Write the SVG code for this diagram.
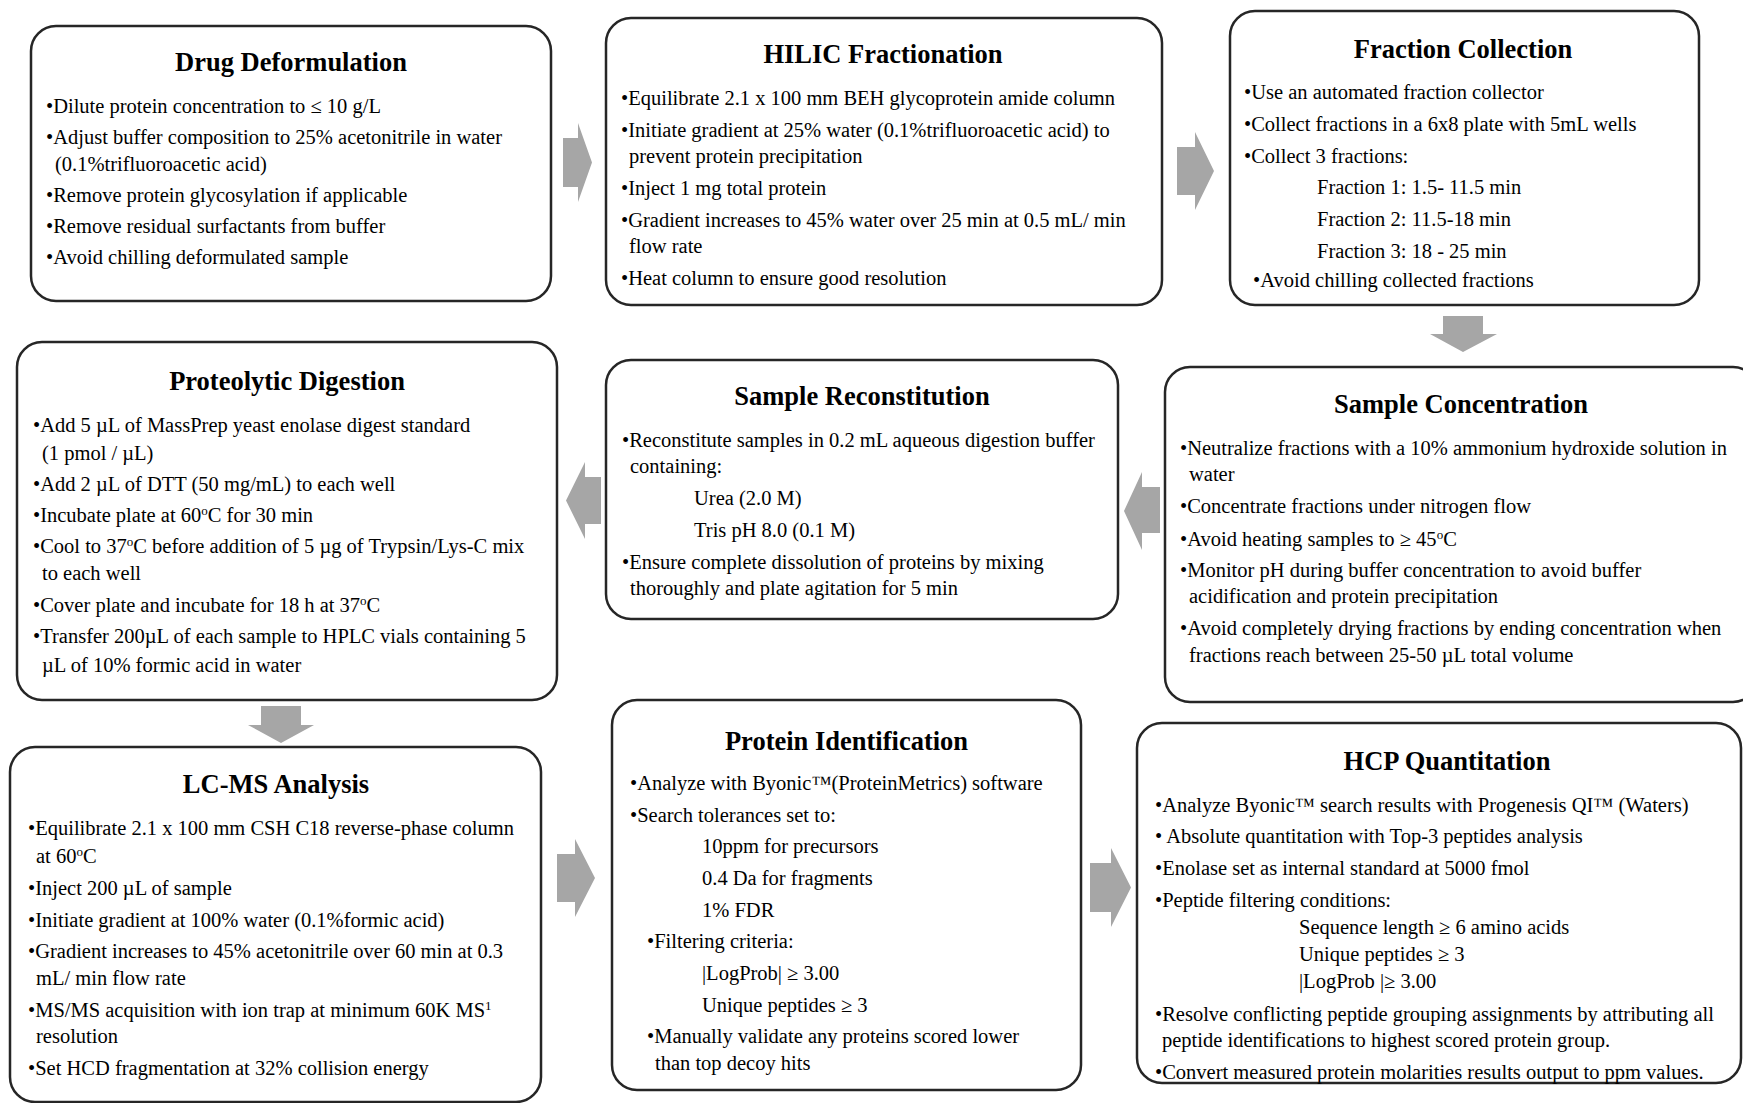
<svg xmlns="http://www.w3.org/2000/svg" width="1743" height="1103" viewBox="0 0 1743 1103">
  <style>
    .box { fill: #ffffff; stroke: #262626; stroke-width: 2.5; }
    .arrow { fill: #a6a6a6; stroke: none; }
    .h { font-family: "Liberation Serif", "Times New Roman", serif; font-weight: bold; font-size: 26.5px; fill: #000; text-anchor: middle; }
    .t { font-family: "Liberation Serif", "Times New Roman", serif; font-size: 20.5px; fill: #000; }
    .sup { font-size: 13px; }
  </style>
  <rect width="1743" height="1103" fill="#ffffff"/>

  <!-- flow arrows between steps -->
  <g id="connectors">
    <path class="arrow" d="M563,138 H578 V123 L592,162.5 L578,202 V187 H563 Z"/>
    <path class="arrow" d="M1177,147 H1195 V132 L1214,171 L1195,210 V195 H1177 Z"/>
    <path class="arrow" d="M1443,316 H1483 V334 H1497 L1463,352 L1430,334 H1443 Z"/>
    <path class="arrow" d="M1160,487 H1142 V472 L1124,511 L1142,550 V533 H1160 Z"/>
    <path class="arrow" d="M601,477 H585 V462 L566,500.5 L585,539 V524 H601 Z"/>
    <path class="arrow" d="M261,706 H301 V725 H314 L281,743 L248,725 H261 Z"/>
    <path class="arrow" d="M557,854 H575 V839 L595,878 L575,917 V902 H557 Z"/>
    <path class="arrow" d="M1090,863 H1111 V848 L1131,887.5 L1111,927 V912 H1090 Z"/>
  </g>

  <g id="drug-deformulation">
    <rect class="box" x="31" y="26" width="520" height="275" rx="25"/>
    <text class="h" x="291" y="71">Drug Deformulation</text>
    <text class="t" x="46" y="113">•Dilute protein concentration to ≤ 10 g/L</text>
    <text class="t" x="46" y="144">•Adjust buffer composition to 25% acetonitrile in water</text>
    <text class="t" x="55" y="170.5">(0.1%trifluoroacetic acid)</text>
    <text class="t" x="46" y="201.5">•Remove protein glycosylation if applicable</text>
    <text class="t" x="46" y="233">•Remove residual surfactants from buffer</text>
    <text class="t" x="46" y="264">•Avoid chilling deformulated sample</text>
  </g>

  <g id="hilic-fractionation">
    <rect class="box" x="606" y="18" width="556" height="287" rx="25"/>
    <text class="h" x="883" y="63">HILIC Fractionation</text>
    <text class="t" x="621" y="105">•Equilibrate 2.1 x 100 mm BEH glycoprotein amide column</text>
    <text class="t" x="621" y="136.5">•Initiate gradient at 25% water (0.1%trifluoroacetic acid) to</text>
    <text class="t" x="629" y="163">prevent protein precipitation</text>
    <text class="t" x="621" y="195">•Inject 1 mg total protein</text>
    <text class="t" x="621" y="226.5">•Gradient increases to 45% water over 25 min at 0.5 mL/ min</text>
    <text class="t" x="629" y="253">flow rate</text>
    <text class="t" x="621" y="285">•Heat column to ensure good resolution</text>
  </g>

  <g id="fraction-collection">
    <rect class="box" x="1230" y="11" width="469" height="294" rx="25"/>
    <text class="h" x="1463" y="58">Fraction Collection</text>
    <text class="t" x="1244" y="99">•Use an automated fraction collector</text>
    <text class="t" x="1244" y="131">•Collect fractions in a 6x8 plate with 5mL wells</text>
    <text class="t" x="1244" y="162.5">•Collect 3 fractions:</text>
    <text class="t" x="1317" y="194">Fraction 1: 1.5- 11.5 min</text>
    <text class="t" x="1317" y="226">Fraction 2: 11.5-18 min</text>
    <text class="t" x="1317" y="257.5">Fraction 3: 18 - 25 min</text>
    <text class="t" x="1253" y="287">•Avoid chilling collected fractions</text>
  </g>

  <g id="sample-concentration">
    <rect class="box" x="1165" y="367" width="593" height="335" rx="25"/>
    <text class="h" x="1461" y="413">Sample Concentration</text>
    <text class="t" x="1180" y="455">•Neutralize fractions with a 10% ammonium hydroxide solution in</text>
    <text class="t" x="1189" y="480.5">water</text>
    <text class="t" x="1180" y="513">•Concentrate fractions under nitrogen flow</text>
    <text class="t" x="1180" y="546">•Avoid heating samples to ≥ 45<tspan class="sup" baseline-shift="super">o</tspan>C</text>
    <text class="t" x="1180" y="576.5">•Monitor pH during buffer concentration to avoid buffer</text>
    <text class="t" x="1189" y="602.5">acidification and protein precipitation</text>
    <text class="t" x="1180" y="635">•Avoid completely drying fractions by ending concentration when</text>
    <text class="t" x="1189" y="661.5">fractions reach between 25-50 µL total volume</text>
  </g>

  <g id="sample-reconstitution">
    <rect class="box" x="606" y="360" width="512" height="259" rx="25"/>
    <text class="h" x="862" y="405">Sample Reconstitution</text>
    <text class="t" x="622" y="446.5">•Reconstitute samples in 0.2 mL aqueous digestion buffer</text>
    <text class="t" x="630" y="473">containing:</text>
    <text class="t" x="694" y="505">Urea (2.0 M)</text>
    <text class="t" x="694" y="536.5">Tris pH 8.0 (0.1 M)</text>
    <text class="t" x="622" y="569">•Ensure complete dissolution of proteins by mixing</text>
    <text class="t" x="630" y="595">thoroughly and plate agitation for 5 min</text>
  </g>

  <g id="proteolytic-digestion">
    <rect class="box" x="17" y="342" width="540" height="358" rx="25"/>
    <text class="h" x="287" y="390">Proteolytic Digestion</text>
    <text class="t" x="33" y="431.5">•Add 5 µL of MassPrep yeast enolase digest standard</text>
    <text class="t" x="42" y="460">(1 pmol / µL)</text>
    <text class="t" x="33" y="491">•Add 2 µL of DTT (50 mg/mL) to each well</text>
    <text class="t" x="33" y="521.5">•Incubate plate at 60<tspan class="sup" baseline-shift="super">o</tspan>C for 30 min</text>
    <text class="t" x="33" y="552.5">•Cool to 37<tspan class="sup" baseline-shift="super">o</tspan>C before addition of 5 µg of Trypsin/Lys-C mix</text>
    <text class="t" x="42" y="580">to each well</text>
    <text class="t" x="33" y="611.5">•Cover plate and incubate for 18 h at 37<tspan class="sup" baseline-shift="super">o</tspan>C</text>
    <text class="t" x="33" y="643">•Transfer 200µL of each sample to HPLC vials containing 5</text>
    <text class="t" x="42" y="671.5">µL of 10% formic acid in water</text>
  </g>

  <g id="lc-ms-analysis">
    <rect class="box" x="10" y="747" width="531" height="355" rx="25"/>
    <text class="h" x="276" y="793">LC-MS Analysis</text>
    <text class="t" x="28" y="835">•Equilibrate 2.1 x 100 mm CSH C18 reverse-phase column</text>
    <text class="t" x="36" y="863">at 60<tspan class="sup" baseline-shift="super">o</tspan>C</text>
    <text class="t" x="28" y="895">•Inject 200 µL of sample</text>
    <text class="t" x="28" y="926.5">•Initiate gradient at 100% water (0.1%formic acid)</text>
    <text class="t" x="28" y="958">•Gradient increases to 45% acetonitrile over 60 min at 0.3</text>
    <text class="t" x="36" y="985">mL/ min flow rate</text>
    <text class="t" x="28" y="1016.5">•MS/MS acquisition with ion trap at minimum 60K MS<tspan class="sup" baseline-shift="super">1</tspan></text>
    <text class="t" x="36" y="1043">resolution</text>
    <text class="t" x="28" y="1075">•Set HCD fragmentation at 32% collision energy</text>
  </g>

  <g id="protein-identification">
    <rect class="box" x="612" y="700" width="469" height="390" rx="25"/>
    <text class="h" x="846.5" y="750">Protein Identification</text>
    <text class="t" x="630" y="790">•Analyze with Byonic™(ProteinMetrics) software</text>
    <text class="t" x="630" y="821.5">•Search tolerances set to:</text>
    <text class="t" x="702" y="853">10ppm for precursors</text>
    <text class="t" x="702" y="885">0.4 Da for fragments</text>
    <text class="t" x="702" y="916.5">1% FDR</text>
    <text class="t" x="647" y="948">•Filtering criteria:</text>
    <text class="t" x="702" y="980">|LogProb| ≥ 3.00</text>
    <text class="t" x="702" y="1011.5">Unique peptides ≥ 3</text>
    <text class="t" x="647" y="1043">•Manually validate any proteins scored lower</text>
    <text class="t" x="655" y="1070">than top decoy hits</text>
  </g>

  <g id="hcp-quantitation">
    <rect class="box" x="1137" y="723" width="604" height="360" rx="25"/>
    <text class="h" x="1447" y="770">HCP Quantitation</text>
    <text class="t" x="1155" y="811.5">•Analyze Byonic™ search results with Progenesis QI™ (Waters)</text>
    <text class="t" x="1155" y="843">• Absolute quantitation with Top-3 peptides analysis</text>
    <text class="t" x="1155" y="875">•Enolase set as internal standard at 5000 fmol</text>
    <text class="t" x="1155" y="906.5">•Peptide filtering conditions:</text>
    <text class="t" x="1299" y="934">Sequence length ≥ 6 amino acids</text>
    <text class="t" x="1299" y="961">Unique peptides ≥ 3</text>
    <text class="t" x="1299" y="988">|LogProb |≥ 3.00</text>
    <text class="t" x="1155" y="1020.5">•Resolve conflicting peptide grouping assignments by attributing all</text>
    <text class="t" x="1162" y="1047">peptide identifications to highest scored protein group.</text>
    <text class="t" x="1155" y="1078.5">•Convert measured protein molarities results output to ppm values.</text>
  </g>
</svg>
